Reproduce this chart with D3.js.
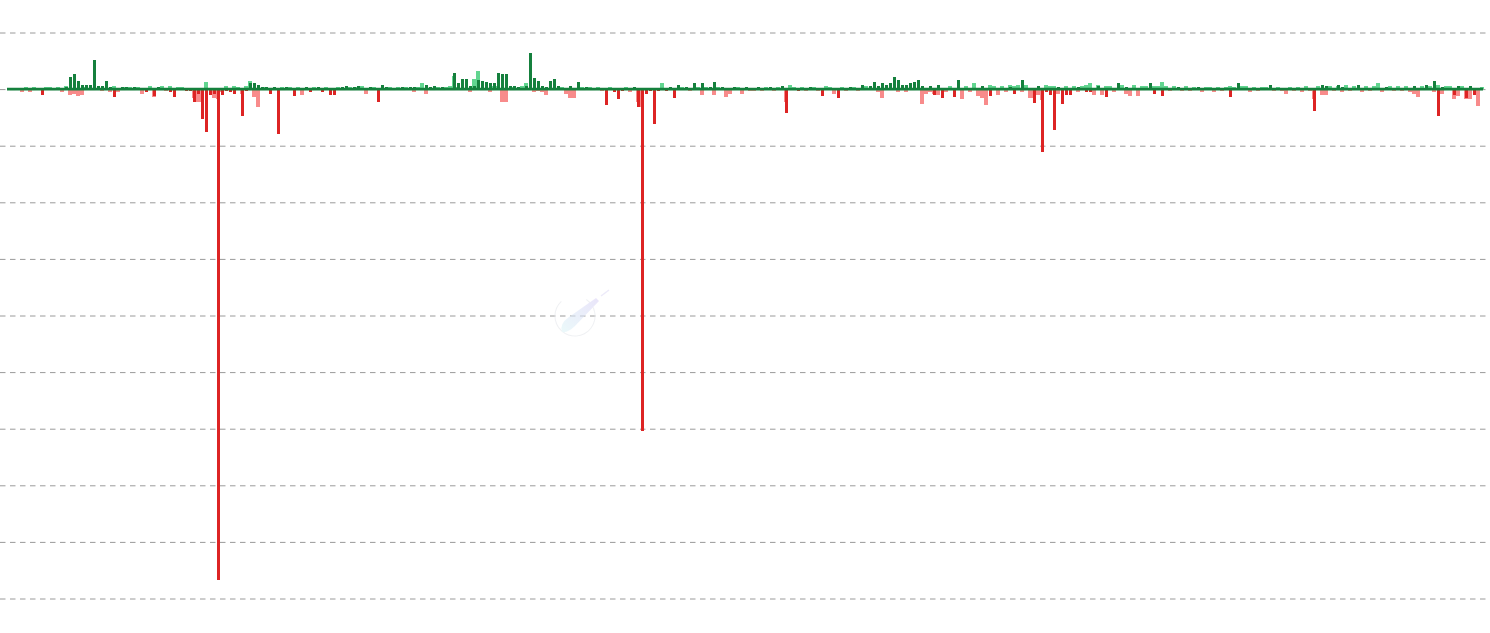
<!DOCTYPE html>
<html>
<head>
<meta charset="utf-8">
<script src="https://cdn.jsdelivr.net/npm/d3@7"></script>
<style>
  html, body { margin: 0; padding: 0; background: #ffffff; }
  svg { display: block; }
</style>
</head>
<body>
<svg id="chart" width="1490" height="633"></svg>
<script>
// ---- data (one value per period) ----
const yTicks = [50, 0, -50, -100, -150, -200, -250, -300, -350, -400, -450];

// primary series (dark green when positive, dark red when negative)
const primary = [
  0,0,0,0,0,0,0,0,-5,0,
  0,0,0,0,2,11,13,7,4,4,
  4,26,3,3,7,2,-7,0,2,2,
  0,2,0,0,-3,0,-6,2,0,0,
  -3,-7,0,0,-2,-2,-11,-4,-26,-38,
  -5,-4,-434,-5,-2,-3,-4,0,-24,-2,
  5,5,4,2,2,-4,2,-40,0,2,
  0,-6,0,0,2,-3,0,2,-3,0,
  -5,-5,0,2,3,0,2,3,0,0,
  2,0,-11,4,2,0,0,0,2,0,
  2,2,0,0,4,2,3,0,2,0,
  0,14,5,9,9,3,3,8,7,6,
  5,5,14,13,13,3,3,2,0,3,
  32,10,7,3,2,7,9,3,0,0,
  3,0,6,0,2,0,0,0,0,-14,
  0,-3,-9,-2,0,0,2,-16,-302,-4,
  -2,-31,-2,0,-2,2,-8,4,0,2,
  0,5,0,5,0,2,6,0,2,0,
  0,2,0,0,2,0,0,2,0,0,
  2,0,0,3,-21,0,0,-2,0,0,
  2,0,0,-6,0,0,0,-8,0,0,
  2,0,0,4,0,3,6,3,5,4,
  5,11,8,4,4,5,6,8,3,0,
  3,-5,4,-8,0,0,-7,8,0,0,
  0,0,0,3,0,-6,0,0,0,0,
  2,-4,0,8,0,0,-12,3,-56,-3,
  -5,-36,2,-13,-5,-5,0,2,0,-3,
  -3,0,3,0,-7,0,0,5,0,2,
  0,0,0,0,0,5,-4,0,-6,0,
  0,0,2,0,0,0,0,2,0,0,
  0,0,0,0,0,-7,0,5,0,0,
  0,0,0,0,0,4,0,0,0,0,
  0,0,0,0,0,0,-19,0,4,3,
  0,0,4,2,0,0,0,4,0,0,
  0,0,0,0,2,0,0,0,0,0,
  0,3,0,0,4,0,7,-24,2,0,
  0,-5,3,0,-8,3,-5,0,0
];

// secondary series (light green when positive, light red when negative)
const secondary = [
  0,1,0,-3,2,-3,2,0,0,2,
  2,0,2,-3,3,-5,-4,-6,-5,2,
  0,0,0,-2,0,-3,3,-3,0,2,
  2,0,2,-4,0,3,-7,0,3,-2,
  3,0,2,2,0,0,-8,-11,-11,6,
  0,-8,-9,-3,3,0,3,2,-4,3,
  7,-7,-16,0,2,0,0,0,2,0,
  2,0,2,-5,0,0,2,0,0,2,
  0,0,2,0,0,2,0,2,3,-4,
  0,2,0,0,0,2,0,2,0,2,
  0,-3,2,5,-4,0,0,2,0,2,
  3,12,2,0,0,-3,9,16,0,0,
  -3,3,3,-11,-11,0,2,0,3,5,
  0,-3,-2,-3,-5,0,0,0,2,-4,
  -8,-8,0,2,0,2,0,2,-2,0,
  2,0,0,0,2,-3,0,-11,-16,0,
  0,0,0,5,0,0,0,0,2,0,
  -2,0,2,-5,2,0,-5,2,0,-7,
  -4,0,2,-4,0,-2,-2,0,-2,2,
  0,-2,2,0,-11,4,2,0,2,-2,
  0,2,-2,0,3,2,-4,0,2,-2,
  0,2,-2,0,3,0,0,-3,-8,0,
  0,0,-3,0,-3,0,0,0,-13,-4,
  -3,-4,-5,0,-3,3,0,0,-9,3,
  -3,5,-6,-8,-14,4,3,-5,3,-3,
  4,3,4,-3,4,-8,-8,-5,-10,4,
  3,3,-4,0,3,0,3,-3,3,4,
  5,-5,4,-5,3,3,-3,0,4,-4,
  -6,4,-6,3,3,0,3,3,6,3,
  -2,3,0,-2,3,-2,2,0,-3,2,
  2,-3,2,-2,2,3,2,0,3,3,
  -3,2,-2,2,2,0,-2,2,-2,-4,
  2,-2,2,-3,3,-2,-9,3,-5,-5,
  3,-2,3,-3,4,-2,3,0,-3,3,
  -2,3,5,-3,0,3,-2,3,-2,3,
  -3,-4,-7,3,0,3,-3,4,-4,3,
  3,-9,-6,3,-9,-9,0,-15,2
];

const periods = primary.map((_, i) => i);

// ---- drawing ----
const svg = d3.select("#chart");

const x = d3.scaleBand().domain(periods).range([8, 1484]).padding(0);
const y = d3.scaleLinear().domain([-450, 50]).range([598.5, 32.5]);

// gridlines
const grid = svg.append("g").attr("class", "grid")
  .call(d3.axisRight(y).tickValues(yTicks).tickSize(1487).tickFormat(""));
grid.select(".domain").remove();
grid.selectAll("line")
  .attr("stroke", "#9a9a9a")
  .attr("stroke-width", 1)
  .attr("stroke-dasharray", "5.5,4.5");

// faint watermark logo
const defs = svg.append("defs");
const grad = defs.append("linearGradient")
  .attr("id", "lg").attr("x1", "0").attr("y1", "1").attr("x2", "1").attr("y2", "0");
grad.append("stop").attr("offset", "0").attr("stop-color", "#def6f8");
grad.append("stop").attr("offset", "1").attr("stop-color", "#dcd4f6");
const logo = svg.append("g").attr("opacity", 0.6);
logo.append("path")
  .attr("d", d3.arc()({innerRadius: 19.5, outerRadius: 20.6, startAngle: 0.6, endAngle: 2 * Math.PI - 0.75}))
  .attr("transform", "translate(575,316)")
  .attr("fill", "#e6e8ec");
logo.append("path")
  .attr("d", "M562,332 Q559,324 569,317 L596,298 L599,301 L575,326 Q568,333 562,332 Z")
  .attr("fill", "url(#lg)");
logo.append("line")
  .attr("x1", 601).attr("y1", 296).attr("x2", 609).attr("y2", 290)
  .attr("stroke", "#e0dcf5").attr("stroke-width", 1.5);

// secondary (light) bars
svg.append("g").attr("shape-rendering", "crispEdges").selectAll("rect")
  .data(secondary.map((v, i) => ({i, v})).filter(d => d.v !== 0))
  .join("rect")
  .attr("x", d => x(d.i))
  .attr("width", x.bandwidth())
  .attr("y", d => y(Math.max(0, d.v)))
  .attr("height", d => Math.abs(y(d.v) - y(0)))
  .attr("fill", d => d.v > 0 ? "#62d590" : "#f88b8b");

// primary (dark) bars
svg.append("g").attr("shape-rendering", "crispEdges").selectAll("rect")
  .data(primary.map((v, i) => ({i, v})).filter(d => d.v !== 0))
  .join("rect")
  .attr("x", d => x(d.i) + 0.6)
  .attr("width", x.bandwidth() - 0.6)
  .attr("y", d => y(Math.max(0, d.v)))
  .attr("height", d => Math.abs(y(d.v) - y(0)))
  .attr("fill", d => d.v > 0 ? "#15803d" : "#dd2424");

// zero baseline
svg.append("line")
  .attr("x1", 7).attr("x2", 1483)
  .attr("y1", y(0)).attr("y2", y(0))
  .attr("stroke", "#15803d")
  .attr("stroke-width", 2.6);
</script>
</body>
</html>
